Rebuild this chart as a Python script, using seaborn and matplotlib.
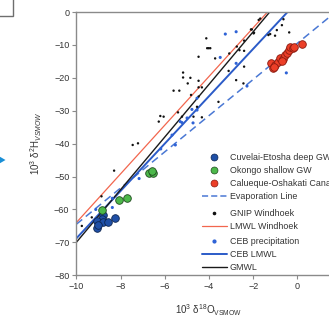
import numpy as np
import seaborn as sns
import matplotlib.pyplot as plt
from matplotlib.lines import Line2D
from matplotlib.patches import Rectangle, FancyArrow

# ------------------- DATA -------------------

# Cuvelai-Etosha deep groundwater
cuv_o18 = [-8.80, -8.85, -9.05, -8.78, -8.55, -8.27, -9.08, -9.00]
cuv_h2 = [-61.8, -63.0, -63.5, -63.7, -63.7, -62.5, -65.5, -64.6]

# Okongo shallow groundwater
oko_o18 = [-8.85, -8.06, -7.69, -6.71, -6.51, -6.58]
oko_h2 = [-60.2, -57.1, -56.6, -48.8, -49.0, -48.3]

# Calueque-Oshakati canal
can_o18 = [-1.19, -1.11, -1.01, -0.86, -0.78, -0.63, -0.56, -0.45, -0.36,
           -0.33, -0.21, -0.15, 0.20, -1.08, -0.70]
can_h2 = [-15.4, -17.1, -16.1, -15.1, -14.1, -14.4, -13.1, -12.6, -11.6,
          -10.5, -11.0, -10.5, -9.7, -16.6, -14.8]

# GNIP Windhoek precipitation
gnip_o18 = [-1.75, -1.68, -4.12, -4.08, -4.01, -3.94, -4.47, -3.72, -3.08, -2.74,
            -2.62, -2.41, -2.41, -2.06, -1.96, -1.23, -1.01, -0.93, -0.70, -0.63,
            -0.37, -2.41, -3.11, -2.77, -2.44, -5.17, -5.17, -4.84, -4.47, -4.96,
            -4.47, -4.32, -5.60, -5.34, -4.81, -4.47, -4.54, -3.57, -5.40, -6.20,
            -6.05, -6.27, -5.22, -4.70, -4.32, -7.45, -7.21, -8.29, -8.86, -9.75,
            -9.30, -1.31, -1.98, -2.10]
gnip_h2 = [-2.4, -2.0, -8.0, -11.0, -11.0, -11.0, -13.6, -14.1, -12.6, -10.5,
           -11.6, -11.8, -8.7, -5.3, -6.3, -6.7, -7.2, -5.5, -4.0, -2.2,
           -6.2, -16.6, -17.9, -20.7, -21.7, -18.4, -19.9, -20.0, -20.9, -21.7,
           -22.9, -22.9, -23.9, -23.9, -25.2, -25.7, -28.8, -27.3, -30.5, -31.6,
           -31.8, -33.3, -31.8, -31.8, -32.0, -40.4, -39.9, -48.2, -56.0, -65.0,
           -62.4, -7.0, -6.5, -5.3]

# CEB precipitation
ceb_o18 = [-3.26, -2.77, -3.49, -2.77, -2.28, -0.50, -4.54, -4.77, -4.54, -4.99,
           -4.72, -5.30, -5.67, -5.52, -6.18, -7.16, -8.37, -9.12, -8.37, -5.22]
ceb_h2 = [-6.7, -6.0, -13.8, -15.6, -22.5, -18.5, -26.2, -29.6, -29.8, -32.2,
          -33.7, -33.3, -37.4, -40.4, -41.6, -50.6, -56.6, -60.0, -59.4, -33.6]

# Lines (slope, intercept)
gmwl = (8.0, 10.0)
lmwl_windhoek = (7.4, 10.0)
ceb_lmwl = (7.2, 3.2)
evap_line = (5.5, -9.5)
line_x = np.array([-10, 2])

# ------------------- PLOT -------------------

sns.set_style("ticks")
plt.rcParams["font.family"] = ["Liberation Sans", "DejaVu Sans"]
plt.rcParams["mathtext.fontset"] = "custom"
plt.rcParams["mathtext.rm"] = "Liberation Sans"
plt.rcParams["mathtext.it"] = "Liberation Sans:italic"

W, H = 329, 320
fig = plt.figure(figsize=(W / 100, H / 100), dpi=100)
ax = fig.add_axes([76.3 / W, 1 - 275.3 / H, 265.3 / W, 263.3 / H])

c_blue_line = "#2b5bc8"
c_red_line = "#f2664e"
c_dash = "#4a78d4"

ax.plot(line_x, lmwl_windhoek[0] * line_x + lmwl_windhoek[1], color=c_red_line, lw=0.9)
ax.plot(line_x, evap_line[0] * line_x + evap_line[1], color=c_dash, lw=1.1, ls=(0, (5, 3)))
ax.plot(line_x, ceb_lmwl[0] * line_x + ceb_lmwl[1], color=c_blue_line, lw=1.4)
ax.plot(line_x, gmwl[0] * line_x + gmwl[1], color="#1a1a1a", lw=1.0)

sns.scatterplot(x=gnip_o18, y=gnip_h2, ax=ax, color="#111111", s=3,
                edgecolor="none", zorder=5)
sns.scatterplot(x=ceb_o18, y=ceb_h2, ax=ax, color="#2e62d6", s=5,
                edgecolor="none", zorder=5)
sns.scatterplot(x=cuv_o18, y=cuv_h2, ax=ax, color="#1f4fa6", s=30,
                edgecolor="#0d2550", linewidth=0.6, zorder=6)
sns.scatterplot(x=oko_o18, y=oko_h2, ax=ax, color="#4cb84a", s=30,
                edgecolor="#1f4a1f", linewidth=0.6, zorder=6)
sns.scatterplot(x=can_o18, y=can_h2, ax=ax, color="#ec3f28", s=30,
                edgecolor="#8a1a10", linewidth=0.6, zorder=6)

ax.set_xlim(-10, 2)
ax.set_ylim(-80, 0)
ax.set_xticks(range(-10, 1, 2))
ax.set_yticks(range(-80, 1, 10))
for s in ax.spines.values():
    s.set_color("#8a8a8a")
    s.set_linewidth(1.0)
ax.tick_params(direction="out", length=3, width=0.8, color="#8a8a8a",
               labelsize=6.5, labelcolor="#333333", pad=2)
ax.set_xlabel(r"10$^3$ δ$^{18}$O$_{\mathrm{VSMOW}}$", fontsize=7, color="#333333", labelpad=8)
ax.set_ylabel(r"10$^3$ δ$^2$H$_{VSMOW}$", fontsize=7, color="#333333", labelpad=7)

# legends in three groups
def mk(color, edge):
    return Line2D([], [], ls="none", marker="o", markersize=5, markerfacecolor=color,
                  markeredgecolor=edge, markeredgewidth=0.5)

groups = [
    ([mk("#1f4fa6", "#0d2550"), mk("#4cb84a", "#1f4a1f"), mk("#ec3f28", "#8a1a10"),
      Line2D([], [], color=c_dash, lw=1.1, ls=(0, (4, 2)))],
     ["Cuvelai-Etosha deep GW", "Okongo shallow GW", "Calueque-Oshakati Canal",
      "Evaporation Line"], 153),
    ([Line2D([], [], ls="none", marker="o", markersize=1.6, color="#111111"),
      Line2D([], [], color=c_red_line, lw=0.9)],
     ["GNIP Windhoek", "LMWL Windhoek"], 209),
    ([Line2D([], [], ls="none", marker="o", markersize=2, color="#2e62d6"),
      Line2D([], [], color=c_blue_line, lw=1.4),
      Line2D([], [], color="#1a1a1a", lw=1.0)],
     ["CEB precipitation", "CEB LMWL", "GMWL"], 237),
]
for handles, labels, top in groups:
    leg = fig.legend(handles, labels, loc="upper left", frameon=False, fontsize=6.4,
                     bbox_to_anchor=(201.7 / W, 1 - top / H), bbox_transform=fig.transFigure,
                     borderpad=0, borderaxespad=0, labelspacing=0.45,
                     handlelength=2.8, handletextpad=0.35)
    for t in leg.get_texts():
        t.set_color("#333333")

# fragments of neighbouring panels
fig.patches.append(Rectangle((-0.2, 1 - 15.7 / H), 0.2 + 12.7 / W, 0.3,
                             transform=fig.transFigure, fill=False,
                             edgecolor="#6e6e6e", lw=1.0))
fig.patches.append(FancyArrow(-20 / W, 1 - 160 / H, 25.5 / W, 0, width=0.004,
                              head_width=7 / H, head_length=6 / W,
                              length_includes_head=True, transform=fig.transFigure,
                              color="#1a8fd6", lw=0))

fig.savefig("out.png", dpi=100)
